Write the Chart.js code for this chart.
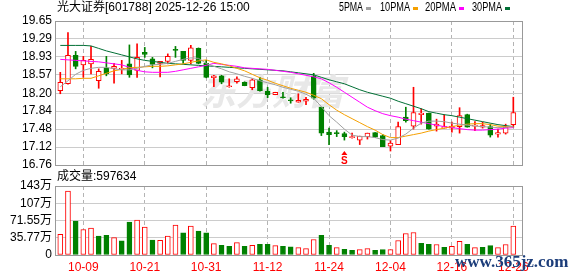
<!DOCTYPE html>
<html>
<head>
<meta charset="utf-8">
<script src="https://cdn.jsdelivr.net/npm/chart.js@4.4.1/dist/chart.umd.min.js"></script>
<style>
html, body { margin: 0; padding: 0; background: #fff; }
#wrap { position: relative; width: 578px; height: 276px; }
#wrap canvas { position: absolute; left: 0; top: 0; }
</style>
</head>
<body>
<div id="wrap">
  <canvas id="kChart" width="578" height="276"></canvas>
  <canvas id="volChart" width="578" height="276"></canvas>
</div>
<script>
// trading days shown on the chart
var dates = ['09-26','09-29','09-30','10-09','10-10','10-13','10-14','10-15','10-16','10-17',
             '10-20','10-21','10-22','10-23','10-24','10-27','10-28','10-29','10-30','10-31',
             '11-03','11-04','11-05','11-06','11-07','11-10','11-11','11-12','11-13','11-14',
             '11-17','11-18','11-19','11-20','11-21','11-24','11-25','11-26','11-27','11-28',
             '12-01','12-02','12-03','12-04','12-05','12-08','12-09','12-10','12-11','12-12',
             '12-15','12-16','12-17','12-18','12-19','12-22','12-23','12-24','12-25','12-26'];
var labelIdx = [3, 11, 19, 27, 35, 43, 51, 59];

var opens  = [18.25,18.39,18.96,18.77,18.79,18.45,18.71,18.70,18.68,18.79,18.66,19.02,18.89,18.80,18.84,19.08,19.04,18.86,19.10,18.80,
              18.51,18.55,18.33,18.43,18.42,18.31,18.47,18.24,18.17,18.12,18.06,18.02,18.04,18.55,17.92,17.42,17.40,17.39,17.31,17.26,
              17.33,17.41,17.35,17.14,17.17,17.72,17.54,17.77,17.80,17.54,17.50,17.50,17.53,17.77,17.54,17.52,17.53,17.38,17.40,17.57];
var highs  = [18.62,19.42,19.04,18.94,19.14,18.69,18.94,18.80,18.86,19.17,19.19,19.12,18.92,18.84,18.99,19.14,19.04,19.16,19.11,18.86,
              18.56,18.56,18.49,18.53,18.43,18.49,18.52,18.32,18.22,18.22,18.11,18.19,18.12,18.60,17.92,17.50,17.45,17.42,17.40,17.34,
              17.40,17.41,17.37,17.25,17.62,17.92,18.32,17.89,17.80,17.68,17.77,17.62,17.91,17.78,17.63,17.62,17.58,17.48,17.58,18.12];
var lows   = [18.19,18.38,18.69,18.52,18.59,18.30,18.55,18.40,18.59,18.52,18.52,18.92,18.71,18.53,18.79,18.92,18.80,18.79,18.79,18.51,
              18.33,18.39,18.32,18.40,18.35,18.27,18.24,18.11,18.17,18.10,18.00,18.02,17.97,18.08,17.35,17.17,17.33,17.26,17.30,17.17,
              17.28,17.31,17.13,17.04,17.17,17.62,17.48,17.58,17.48,17.44,17.50,17.42,17.40,17.52,17.45,17.50,17.32,17.32,17.38,17.52];
var closes = [18.42,18.96,18.74,18.86,18.88,18.64,18.59,18.74,18.70,18.57,18.92,18.98,18.78,18.84,18.94,19.06,18.86,19.11,18.80,18.52,
              18.55,18.42,18.35,18.49,18.35,18.47,18.25,18.17,18.22,18.11,18.05,18.06,18.08,18.10,17.40,17.37,17.39,17.33,17.32,17.34,
              17.40,17.32,17.13,17.20,17.53,17.65,17.81,17.80,17.48,17.58,17.53,17.54,17.75,17.52,17.56,17.55,17.36,17.41,17.52,17.81];

var ma5  = [18.33,18.45,18.58,18.66,18.70,18.72,18.72,18.69,18.67,18.67,18.70,18.74,18.77,18.78,18.80,18.84,18.88,18.91,18.90,18.80,
            18.74,18.69,18.63,18.59,18.54,18.50,18.45,18.41,18.37,18.32,18.28,18.24,18.18,18.10,17.93,17.75,17.62,17.48,17.36,17.33,
            17.33,17.31,17.27,17.26,17.30,17.38,17.50,17.60,17.64,17.64,17.63,17.60,17.58,17.56,17.54,17.53,17.52,17.51,17.52,17.53];
var ma10 = [18.49,18.49,18.49,18.50,18.50,18.55,18.60,18.65,18.68,18.71,18.72,18.73,18.74,18.74,18.75,18.77,18.79,18.82,18.85,18.87,
            18.82,18.79,18.75,18.70,18.65,18.58,18.51,18.46,18.40,18.35,18.30,18.26,18.22,18.16,18.09,17.97,17.86,17.77,17.69,17.61,
            17.53,17.46,17.37,17.31,17.31,17.34,17.37,17.40,17.44,17.47,17.50,17.53,17.56,17.58,17.59,17.59,17.57,17.54,17.53,17.53];
var ma20 = [18.88,18.87,18.86,18.85,18.84,18.83,18.81,18.79,18.77,18.72,18.66,18.63,18.62,18.62,18.62,18.64,18.67,18.70,18.73,18.76,
            18.80,18.78,18.76,18.74,18.71,18.70,18.69,18.68,18.66,18.64,18.62,18.59,18.56,18.53,18.49,18.41,18.32,18.22,18.12,18.02,
            17.92,17.85,17.79,17.75,17.72,17.68,17.65,17.62,17.59,17.56,17.53,17.51,17.49,17.47,17.46,17.46,17.47,17.48,17.50,17.51];
var ma30 = [19.16,19.16,19.16,19.16,19.15,19.10,19.05,19.01,18.97,18.93,18.89,18.86,18.84,18.82,18.80,18.79,18.78,18.77,18.76,18.75,
            18.74,18.73,18.72,18.71,18.70,18.69,18.68,18.67,18.66,18.65,18.63,18.61,18.59,18.57,18.52,18.47,18.43,18.39,18.33,18.27,
            18.22,18.18,18.14,18.10,18.04,17.99,17.94,17.89,17.83,17.80,17.77,17.75,17.72,17.69,17.66,17.63,17.60,17.57,17.55,17.53];

var volumes = [431000,1327000,702000,529000,556000,390000,410000,362000,292000,681000,
               723000,577000,312000,306000,390000,619000,458000,598000,494000,458000,
               237000,202000,181000,258000,181000,202000,223000,223000,195000,181000,
               167000,153000,133000,321000,410000,202000,153000,118000,98000,112000,
               133000,98000,112000,112000,300000,446000,467000,244000,223000,217000,
               160000,181000,285000,223000,154000,160000,196000,154000,217000,597634];

var priceTicks = [16.76, 17.12, 17.48, 17.84, 18.20, 18.57, 18.93, 19.29, 19.65];
var volTicks = [0, 357750, 715500, 1073250, 1431000];
var volTickLabels = ['0', '35.77万', '71.55万', '107万', '143万'];

var maNames = ['5PMA', '10PMA', '20PMA', '30PMA'];
var sellMarkIdx = 37;

var red = '#ff0000', green = '#008000';
var maColors = ['#a0a0a0', '#f5a000', '#ff00ff', '#006f35'];
var fontFam = '"Liberation Sans", "Noto Sans CJK SC", sans-serif';

Chart.defaults.font.family = fontFam;
Chart.defaults.font.size = 12;

function candleUp(i) { return closes[i] >= opens[i]; }
function volUp(i) { return i === 0 ? closes[0] >= opens[0] : closes[i] >= closes[i - 1]; }

function xAxis(showLabels) {
    return {
        type: 'linear', min: -0.69, max: 60.13, offset: false,
        afterBuildTicks: function (s) { s.ticks = labelIdx.map(function (v) { return {value: v}; }); },
        afterFit: function (s) { s.height = showLabels ? 20 : 0; },
        grid: {color: '#b4b4b4', drawTicks: false, offset: false},
        border: {display: false, dash: [4, 3]},
        ticks: {
            display: showLabels, color: red, padding: 5, maxRotation: 0, autoSkip: false,
            callback: function (v) { return dates[v]; }
        }
    };
}

function yAxis(min, max, tickVals, label) {
    return {
        min: min, max: max,
        afterBuildTicks: function (s) { s.ticks = tickVals.map(function (v) { return {value: v}; }); },
        afterFit: function (s) { s.width = 55; },
        grid: {color: '#cccccc', drawTicks: false},
        border: {display: false},
        ticks: {color: '#000', padding: 3, autoSkip: false, callback: label}
    };
}

var frame = {
    id: 'frame',
    afterDraw: function (chart) {
        var c = chart.ctx, a = chart.chartArea;
        c.save();
        c.strokeStyle = '#999999';
        c.lineWidth = 1;
        c.strokeRect(a.left + 0.5, a.top + 0.5, a.right - a.left, a.bottom - a.top);
        c.restore();
    }
};

var kTexts = {
    id: 'kTexts',
    beforeDatasetsDraw: function (chart) {
        var c = chart.ctx;
        c.save();
        c.fillStyle = '#e8e8e8';
        c.font = 'italic bold 36px "Noto Sans CJK SC"';
        c.textBaseline = 'middle';
        c.fillText('东方财富', 200, 91, 175);
        c.restore();
    },
    afterDraw: function (chart) {
        var c = chart.ctx;
        c.save();
        c.textBaseline = 'middle';
        c.fillStyle = '#000';
        c.font = '12px ' + fontFam;
        c.fillText('光大证券[601788] 2025-12-26 15:00', 57, 8);
        // legend: name followed by a small colour mark
        var lx = [339, 380, 425, 472];
        var lw = [24, 30, 31, 30];
        for (var k = 0; k < maNames.length; k++) {
            c.fillStyle = '#000';
            c.fillText(maNames[k], lx[k], 8, lw[k]);
            c.fillStyle = maColors[k];
            c.fillRect(lx[k] + lw[k] + 3, 7, 5, 3);
        }
        // sell mark below candle
        var xs = chart.scales.x, ys = chart.scales.y;
        var mx = xs.getPixelForValue(sellMarkIdx);
        var my = ys.getPixelForValue(lows[sellMarkIdx]) + 11;
        c.fillStyle = red;
        c.beginPath();
        c.moveTo(mx, my);
        c.lineTo(mx - 3, my + 4);
        c.lineTo(mx + 3, my + 4);
        c.closePath();
        c.fill();
        c.font = 'bold 10px ' + fontFam;
        c.textAlign = 'center';
        c.fillText('S', mx, my + 10);
        c.restore();
    }
};

var volTexts = {
    id: 'volTexts',
    afterDraw: function (chart) {
        var c = chart.ctx;
        c.save();
        c.textBaseline = 'middle';
        c.fillStyle = '#000';
        c.font = '12px ' + fontFam;
        c.fillText('成交量:' + volumes[volumes.length - 1], 57, 177);
        c.fillStyle = '#1c3d7a';
        c.font = 'bold 17px "Liberation Serif", serif';
        c.fillText('www.365jz.com', 455, 263, 115);
        c.restore();
    }
};

var idx = dates.map(function (d, i) { return i; });

new Chart(document.getElementById('kChart'), {
    type: 'bar',
    data: {
        datasets: [{
            type: 'bar',
            data: idx.map(function (i) { return {x: i, y: [lows[i], highs[i]]}; }),
            backgroundColor: idx.map(function (i) { return candleUp(i) ? red : green; }),
            barThickness: 1, grouped: false, order: 3
        }, {
            type: 'bar',
            data: idx.map(function (i) { return {x: i, y: [opens[i], closes[i]]}; }),
            backgroundColor: idx.map(function (i) { return candleUp(i) ? '#ffffff' : green; }),
            borderColor: idx.map(function (i) { return candleUp(i) ? red : green; }),
            borderWidth: 1, borderSkipped: false, minBarLength: 1,
            barThickness: 5, grouped: false, order: 2
        }].concat([ma5, ma10, ma20, ma30].map(function (m, k) {
            return {
                type: 'line',
                data: idx.map(function (i) { return {x: i, y: m[i]}; }),
                borderColor: maColors[k], borderWidth: 1,
                pointRadius: 0, tension: 0, order: 1
            };
        }))
    },
    options: {
        responsive: false, animation: false,
        layout: {padding: {top: 21, bottom: 111, left: 0, right: 56}},
        plugins: {legend: {display: false}, tooltip: {enabled: false}},
        scales: {
            x: xAxis(false),
            y: yAxis(16.76, 19.65, priceTicks, function (v) { return v.toFixed(2); })
        }
    },
    plugins: [kTexts, frame]
});

new Chart(document.getElementById('volChart'), {
    type: 'bar',
    data: {
        datasets: [{
            data: idx.map(function (i) { return {x: i, y: volumes[i]}; }),
            backgroundColor: idx.map(function (i) { return volUp(i) ? '#ffffff' : green; }),
            borderColor: idx.map(function (i) { return volUp(i) ? red : green; }),
            borderWidth: 1, borderSkipped: false, barThickness: 5
        }]
    },
    options: {
        responsive: false, animation: false,
        layout: {padding: {top: 186, bottom: 1, left: 0, right: 56}},
        plugins: {legend: {display: false}, tooltip: {enabled: false}},
        scales: {
            x: xAxis(true),
            y: yAxis(0, 1431000, volTicks, function (v) { return volTickLabels[volTicks.indexOf(v)]; })
        }
    },
    plugins: [frame, volTexts]
});
</script>
</body>
</html>
